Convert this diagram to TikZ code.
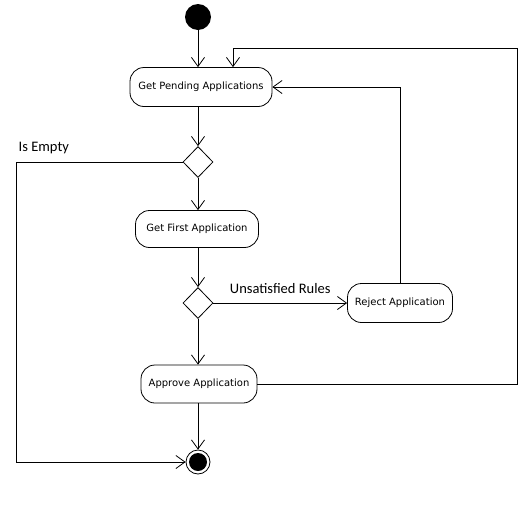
\documentclass[tikz,border=0pt]{standalone}
\usepackage{fontspec}
\setmainfont{DejaVu Sans}
\newfontfamily\labelfont{Carlito}
\usetikzlibrary{arrows.meta,shapes.geometric}
\begin{document}
\begin{tikzpicture}[x=1pt,y=-1pt,line width=0.8pt,
    >={Straight Barb[length=9pt,width=13pt,line width=0.8pt]}]
    \tikzstyle{every node}=[font=\fontsize{10}{12}\selectfont]
    \tikzstyle{activity}=[draw,rounded corners=14pt,minimum height=39pt,inner xsep=6pt]
    \tikzstyle{decision}=[draw,diamond,minimum width=30pt,minimum height=31pt,inner sep=0pt]
    \tikzstyle{guard}=[font=\labelfont\fontsize{14.5}{17}\selectfont]
    \useasboundingbox (0,0) rectangle (531,515);
    \node[circle,fill,minimum size=26pt,inner sep=0pt] (start) at (198,17) {};
    \node[activity,minimum width=142pt] (pending) at (201,87) {Get Pending Applications};
    \node[decision] (empty) at (198,162) {};
    \node[activity,minimum width=123pt,minimum height=37pt] (first) at (197,229) {Get First Application};
    \node[decision] (rules) at (198,303) {};
    \node[activity,minimum width=105pt] (reject) at (400,303) {Reject Application};
    \node[activity,minimum width=116pt,minimum height=38pt] (approve) at (199,384) {Approve Application};
    \node[circle,draw,minimum size=24pt,inner sep=0pt] (stop) at (198,462) {};
    \node[circle,fill,minimum size=18pt,inner sep=0pt] at (stop) {};
    \coordinate (emptycorner) at (16,162);
    \coordinate (emptyfoot) at (16,462);
    \coordinate (rightfoot) at (517,384);
    \coordinate (righttop) at (517,48);
    \coordinate (loopin) at (233,48);
    \coordinate (rejecttop) at (400,87);
    % main flow
    \draw[->] (start) -- (start |- pending.north);
    \draw[->] (pending.south -| empty) -- (empty.north);
    \draw[->] (empty.south) -- (empty |- first.north);
    \draw[->] (first.south -| rules) -- (rules.north);
    \draw[->] (rules.east) -- node[guard,above=6pt] {Unsatisfied Rules} (reject.west);
    \draw[->] (rules.south) -- (rules |- approve.north);
    \draw[->] (approve.south -| stop) -- (stop.north);
    % loops back
    \draw[->] (empty.west) -- (emptycorner) -- (emptyfoot) -- (stop.west);
    \node[guard,anchor=base west] (emptylabel) at (15,151) {Is Empty};
    \draw[->] (reject.north) -- (rejecttop) -- (pending.east);
    \draw[->] (approve.east) -- (rightfoot) -- (righttop) -- (loopin) -- (loopin |- pending.north);
\end{tikzpicture}
\end{document}
